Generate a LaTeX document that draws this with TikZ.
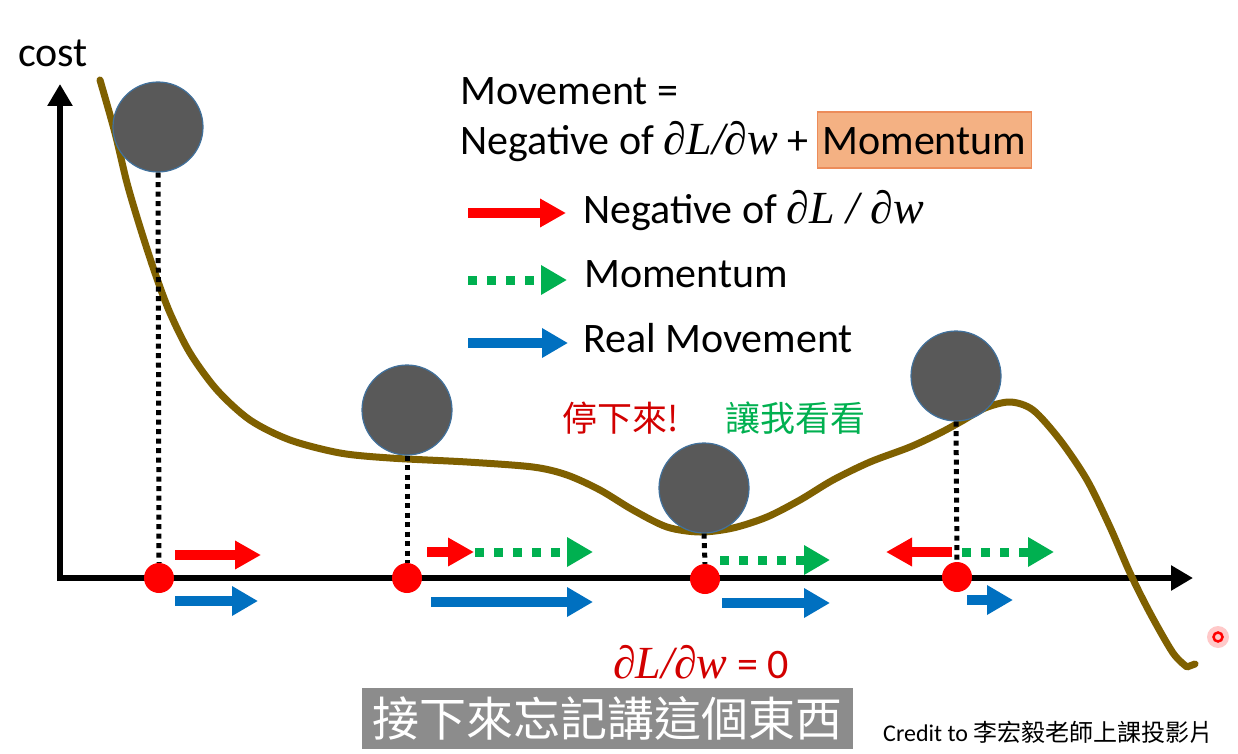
\documentclass[tikz,border=0pt]{standalone}
\usepackage{amsmath,amssymb}
\usepackage{fontspec}
\setmainfont{Carlito}
\newfontfamily\cjk{Noto Sans CJK TC}
\newfontfamily\gradfont{Liberation Serif}
\usepackage{xcolor}
\usepackage{tikz}
\usetikzlibrary{arrows.meta,positioning,calc}

\definecolor{pptred}{RGB}{255,0,0}
\definecolor{pptgreen}{RGB}{0,176,80}
\definecolor{pptblue}{RGB}{0,112,192}
\definecolor{costbrown}{RGB}{127,96,0}
\definecolor{ballgray}{RGB}{89,89,89}
\definecolor{ballrim}{RGB}{65,113,156}
\definecolor{stopred}{RGB}{210,0,0}
\definecolor{hlfill}{RGB}{244,177,131}
\definecolor{hlrim}{RGB}{236,140,90}
\definecolor{subgray}{RGB}{140,140,140}

\newcommand\slidefont{\fontsize{42}{48}\selectfont}
\newcommand\dLdw[1][]{{\gradfont\itshape\fontsize{46}{48}\selectfont ∂L#1/#1∂w}}

\tikzset{
  ball/.style={circle,fill=ballgray,draw=ballrim,line width=1.2pt,minimum size=90pt,inner sep=0pt},
  reddot/.style={circle,fill=pptred,minimum size=30pt,inner sep=0pt},
  drop/.style={black,line width=5pt,dash pattern=on 5pt off 4.5pt},
  gradarr/.style={draw=pptred,line width=10pt,-{Triangle[length=26pt,width=27pt]}},
  momarr/.style={draw=pptgreen,line width=9pt,dash pattern=on 9pt off 10pt,-{Triangle[length=26pt,width=28pt]}},
  realarr/.style={draw=pptblue,line width=10pt,-{Triangle[length=26pt,width=28pt]}},
  axis/.style={line width=6pt,-{Triangle[length=22pt,width=24pt]}},
  slidetext/.style={font=\slidefont,inner sep=0pt},
  hilite/.style={fill=hlfill,draw=hlrim,line width=1.2pt,text height=38pt,text depth=8pt,inner xsep=5pt,inner ysep=5pt}
}

\begin{document}
\begin{tikzpicture}[x=1pt,y=-1pt]
  \fill[white] (0,0) rectangle (1238,754);
  \useasboundingbox (0,0) rectangle (1238,754);

  \coordinate (origin) at (60,578);
  \draw[axis] ($(origin)+(0,3)$) -- (60,84);
  \draw[axis] ($(origin)+(-3,0)$) -- (1193,578);
  \node[slidetext,anchor=base west] (costlabel) at (18,67) {cost};

  \draw[costbrown,line width=7pt,line cap=round,line join=round]
    plot[smooth,tension=0.5] coordinates {(100,80) (115,133) (127,183) (140,227) (155,273) (170,313) (190,353)
      (217,390) (250,420) (290,440) (340,453) (390,458) (467,462) (533,467) (567,475) (600,490) (633,510)
      (667,527) (700,532) (733,528) (767,517) (800,500) (833,480) (870,462) (910,447) (940,433) (962,421)
      (985,408) (1010,402) (1033,410) (1060,440) (1087,480) (1110,527) (1130,573) (1150,613) (1173,653) (1187,667)}
    -- (1195,664);

  \node[ball] (ball1) at (158,127) {};
  \node[ball] (ball2) at (407,410) {};
  \node[ball] (ball3) at (704,488) {};
  \node[ball] (ball4) at (956,376) {};

  \node[reddot] (dot1) at (159,578) {};
  \node[reddot] (dot2) at (407,578) {};
  \node[reddot] (dot3) at (705,579) {};
  \node[reddot] (dot4) at (957,577) {};

  \foreach \i in {1,...,4}
    \draw[drop] (ball\i.south) -- (dot\i.north);

  \draw[gradarr] ([shift={(16,-23)}]dot1.center) -- ++(86,0);
  \draw[realarr] ([shift={(16,23)}]dot1.center) -- ++(83,0);

  \draw[gradarr] ([shift={(20,-26)}]dot2.center) -- ++(47,0);
  \draw[momarr] ([shift={(68,-26)}]dot2.center) -- ++(118,0);
  \draw[realarr] ([shift={(24,24)}]dot2.center) -- ++(162,0);

  \draw[momarr] ([shift={(15,-19)}]dot3.center) -- ++(110,0);
  \draw[realarr] ([shift={(17,24)}]dot3.center) -- ++(108,0);

  \draw[gradarr] ([shift={(-5,-25)}]dot4.center) -- ++(-66,0);
  \draw[momarr] ([shift={(5,-25)}]dot4.center) -- ++(92,0);
  \draw[realarr] ([shift={(10,23)}]dot4.center) -- ++(46,0);

  \node[slidetext,anchor=base west] (movlabel) at (460,105) {Movement =};
  \node[slidetext,anchor=base west] (movformula) at (460,155) {Negative of \dLdw{} +};
  \node[slidetext,hilite,anchor=base west] (momhl) at ($(movformula.base east)+(8,0)$) {Momentum};

  \draw[gradarr] (468,213) -- (566,213);
  \node[slidetext,anchor=base west] (leggrad) at (583,223) {Negative of \dLdw[\ ]};
  \draw[momarr] (468,280) -- (567,280);
  \node[slidetext,anchor=base west] (legmom) at (584,287) {Momentum};
  \draw[realarr] (468,343) -- (568,343);
  \node[slidetext,anchor=base west] (legreal) at (583,352) {Real Movement};

  \node[font=\cjk\fontsize{35}{40}\selectfont,text=stopred] (stoptxt) at (621,418) {停下來!};
  \node[font=\cjk\fontsize{35}{40}\selectfont,text=pptgreen] (looktxt) at (795,418) {讓我看看};
  \node[slidetext,text=stopred] (zerograd) at (701,662) {\dLdw{} = 0};

  \node[fill=subgray,text=white,font=\cjk\fontsize{47}{52}\selectfont,minimum width=491pt,minimum height=61pt,inner sep=0pt] (subtitle) at (607.5,718.5) {接下來忘記講這個東西};
  \node[anchor=base west,inner sep=0pt,font=\fontsize{24}{28}\selectfont] (credit) at (883,741) {Credit to {\cjk\fontsize{24}{28}\selectfont 李宏毅老師上課投影片}};

  \fill[red!35,opacity=0.6] (1218,637) circle (11);
  \draw[pptred,line width=2.5pt] (1218,637) circle (4.5);
\end{tikzpicture}
\end{document}
